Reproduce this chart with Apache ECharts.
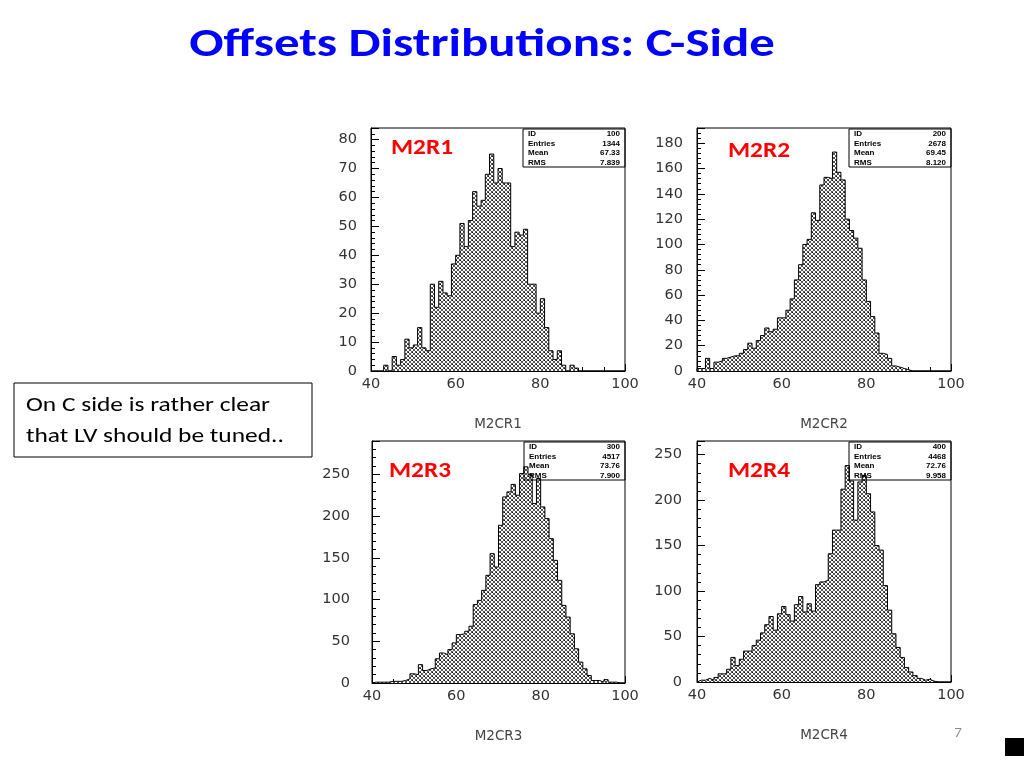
<!DOCTYPE html>
<html>
<head>
<meta charset="utf-8">
<script src="https://cdn.jsdelivr.net/npm/echarts@6/dist/echarts.min.js"></script>
<style>
html, body { margin: 0; padding: 0; background: #fff; }
#main { width: 1024px; height: 768px; }
</style>
</head>
<body>
<div id="main"></div>
<script>
// histogram bins: 1 unit wide, first bin starts at 40
var binStart = 40;
var m2cr1 = [0,0,0,2,0,5,2,4,11,8, 9,15,8,7,30,22,31,27,26,37, 40,51,43,52,62,57,59,68,75,65,
             70,65,65,43,48,47,49,30,30,20, 25,15,7,4,7,2,0,2,1,0, 0,0,0,0,0,0,0,0,0,0];
var m2cr2 = [2,2,10,2,7,8,10,11,12,12, 14,17,22,18,24,28,34,31,33,42, 42,48,57,72,84,100,104,125,119,147,
             153,152,173,157,151,120,111,105,97,72, 55,43,30,14,13,10,4,3,2,1, 0,0,0,0,0,0,0,0,0,0];
var m2cr3 = [1,1,1,1,2,2,2,3,5,11, 10,22,15,17,18,29,36,34,40,48, 58,59,62,68,94,99,111,129,155,139,
             189,223,229,238,225,251,259,250,215,245, 211,197,173,147,123,93,79,59,41,25, 17,9,3,3,1,4,1,1,0,0];
var m2cr4 = [2,2,4,2,5,9,9,14,27,18, 25,34,34,40,46,54,63,72,57,75, 83,74,67,85,94,77,86,78,107,110,
             112,141,167,167,212,238,221,178,220,227, 207,187,150,145,106,79,53,38,27,16, 11,7,4,2,3,1,0,0,0,0];

var histNames = ['M2CR1', 'M2CR2', 'M2CR3', 'M2CR4'];
var tagNames = ['M2R1', 'M2R2', 'M2R3', 'M2R4'];
var yMax = [84, 192, 290, 265];
var yStep = [10, 20, 50, 50];
var statId = ['100', '200', '300', '400'];
var statEntries = ['1344', '2678', '4517', '4468'];
var statMean = ['67.33', '69.45', '73.76', '72.76'];
var statRms = ['7.839', '8.120', '7.900', '9.958'];

var dom = document.getElementById('main');
var chart = echarts.init(dom);

// cross hatch fill like PAW, drawn pixel by pixel so it stays crisp
var tile = document.createElement('canvas');
tile.width = 4; tile.height = 4;
var tc = tile.getContext('2d');
tc.fillStyle = '#ffffff';
tc.fillRect(0, 0, 4, 4);
tc.fillStyle = '#555555';
for (var p = 0; p < 4; p++) {
    tc.fillRect(p, p, 1, 1);
    tc.fillRect(p, 3 - p, 1, 1);
}
tc.fillStyle = '#111111';
tc.fillRect(0, 0, 1, 1);

// panel boxes
var boxes = [
    {left: 371, top: 128, width: 254, height: 243, yLabMargin: 14},
    {left: 697, top: 128, width: 254, height: 243, yLabMargin: 14},
    {left: 372, top: 441, width: 253, height: 242, yLabMargin: 22},
    {left: 697, top: 441, width: 254, height: 241, yLabMargin: 15}
];
var allData = [m2cr1, m2cr2, m2cr3, m2cr4];

function stepData(vals) {
    var d = [[binStart, 0]];
    for (var i = 0; i < vals.length; i++) {
        d.push([binStart + i, vals[i]]);
    }
    d.push([binStart + vals.length, 0]);
    return d;
}

var axisFont = 'DejaVu Sans';
var slideFont = 'Carlito, Lato, sans-serif';
var stretch = 1.24;   // the slide picture is wider than the fonts
var grids = [], xAxes = [], yAxes = [], series = [], graphics = [];

boxes.forEach(function (b, k) {
    grids.push({
        left: b.left, top: b.top, width: b.width, height: b.height,
        show: true, borderColor: '#000', borderWidth: 1, backgroundColor: 'transparent'
    });
    xAxes.push({
        type: 'value', gridIndex: k, min: 40, max: 100, interval: 20,
        name: histNames[k], nameLocation: 'middle', nameGap: 46,
        nameTextStyle: {fontFamily: axisFont, fontSize: 13.5, color: '#444'},
        axisLine: {lineStyle: {color: '#000', width: 1}},
        axisTick: {inside: true, length: 7, lineStyle: {color: '#000'}},
        minorTick: {show: true, splitNumber: 4, length: 4, lineStyle: {color: '#000'}},
        splitLine: {show: false},
        axisLabel: {fontFamily: axisFont, fontSize: 14.5, color: '#333', margin: 6}
    });
    yAxes.push({
        type: 'value', gridIndex: k, min: 0, max: yMax[k], interval: yStep[k],
        axisLine: {show: true, lineStyle: {color: '#000', width: 1}},
        axisTick: {show: true, inside: true, length: 8, lineStyle: {color: '#000'}},
        minorTick: {show: true, splitNumber: 5, length: 4, lineStyle: {color: '#000'}},
        splitLine: {show: false},
        axisLabel: {fontFamily: axisFont, fontSize: 14.5, color: '#333', margin: b.yLabMargin, showMaxLabel: false}
    });
    series.push({
        type: 'line', xAxisIndex: k, yAxisIndex: k, step: 'end',
        data: stepData(allData[k]), symbol: 'none', silent: true,
        lineStyle: {color: '#000', width: 1},
        areaStyle: {color: {image: tile, repeat: 'repeat'}, opacity: 1}
    });

    // red tag
    var tagX = [391, 728, 389, 728][k];
    var tagY = [148, 151, 471, 471][k];
    graphics.push({
        type: 'text', x: tagX, y: tagY, z: 10, scaleX: 1.15,
        style: {text: tagNames[k], fill: '#ff0000', font: 'bold 22px ' + slideFont,
                textAlign: 'left', textVerticalAlign: 'middle'}
    });

    // stats box
    var sx = b.left + 152;
    var sy = b.top + 1, sh = 38;
    graphics.push({
        type: 'rect', z: 10,
        shape: {x: sx, y: sy, width: b.left + b.width - sx, height: sh},
        style: {fill: 'transparent', stroke: '#000', lineWidth: 1}
    });
    var labels = ['ID', 'Entries', 'Mean', 'RMS'];
    var values = [statId[k], statEntries[k], statMean[k], statRms[k]];
    for (var r = 0; r < 4; r++) {
        var ly = sy + 5 + r * 9.6;
        graphics.push({
            type: 'text', x: sx + 5, y: ly, z: 11,
            style: {text: labels[r], fill: '#000', font: 'bold 8px Liberation Sans',
                    textAlign: 'left', textVerticalAlign: 'middle'}
        });
        graphics.push({
            type: 'text', x: b.left + b.width - 5, y: ly, z: 11,
            style: {text: values[r], fill: '#000', font: 'bold 8px Liberation Sans',
                    textAlign: 'right', textVerticalAlign: 'middle'}
        });
    }
});

// slide title
graphics.push({
    type: 'text', x: 482, y: 46, z: 10, scaleX: stretch,
    style: {text: 'Offsets Distributions: C-Side', fill: '#0000ff',
            font: 'bold 41px ' + slideFont, textAlign: 'center', textVerticalAlign: 'middle'}
});
// note box
graphics.push({
    type: 'rect', z: 10,
    shape: {x: 14, y: 383, width: 298, height: 74},
    style: {fill: '#fff', stroke: '#000', lineWidth: 1}
});
graphics.push({
    type: 'text', x: 26, y: 406, z: 11, scaleX: stretch,
    style: {text: 'On C side is rather clear', fill: '#000', font: '20.5px ' + slideFont,
            textAlign: 'left', textVerticalAlign: 'middle'}
});
graphics.push({
    type: 'text', x: 26, y: 437, z: 11, scaleX: stretch,
    style: {text: 'that LV should be tuned..', fill: '#000', font: '20.5px ' + slideFont,
            textAlign: 'left', textVerticalAlign: 'middle'}
});
// page number and corner mark
graphics.push({
    type: 'text', x: 958, y: 733, z: 10,
    style: {text: '7', fill: '#8c8c8c', font: '15px ' + slideFont,
            textAlign: 'center', textVerticalAlign: 'middle'}
});
graphics.push({
    type: 'rect', z: 10,
    shape: {x: 1005, y: 738, width: 19, height: 18},
    style: {fill: '#000'}
});

var option = {
    animation: false,
    grid: grids,
    xAxis: xAxes,
    yAxis: yAxes,
    series: series,
    graphic: graphics
};
chart.setOption(option);
</script>
</body>
</html>
